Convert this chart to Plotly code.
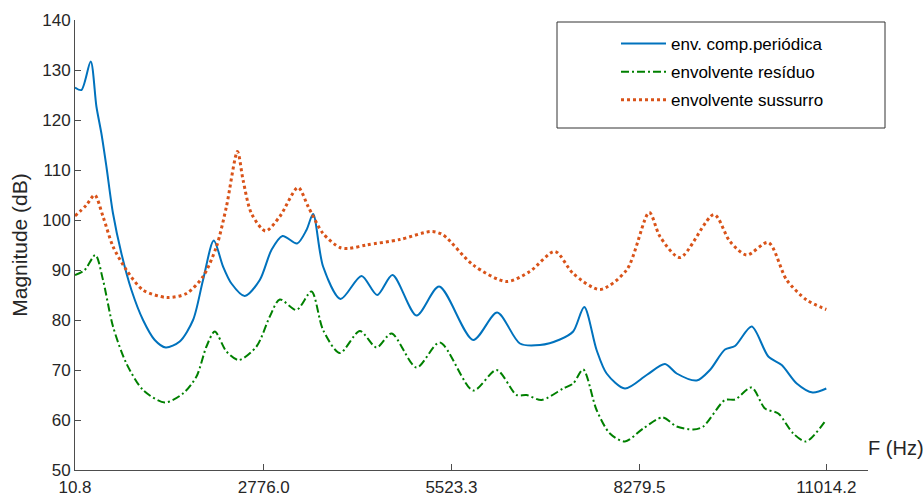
import plotly.graph_objects as go

# ---------------- data ----------------
freq_blue = [10.8, 104.6, 240.8, 324.4, 397.6, 470.9, 567.6, 690.7, 837.2, 1007, 1178.6,
             1339.7, 1545, 1740, 1886, 2043, 2179, 2302, 2497, 2717, 2888, 3050, 3263,
             3401, 3498, 3644, 3900, 4207, 4436, 4661, 5013, 5344, 5842, 6194, 6527,
             6820, 7113, 7307, 7469, 7650, 7797, 8065, 8383, 8651, 8823, 9116, 9310,
             9530, 9677, 9921, 10165, 10361, 10581, 10815, 11014.2]
mag_blue = [126.5, 126.0, 131.7, 122.7, 117.3, 110.7, 101.3, 93.3, 86.0, 80.0, 76.0,
            74.5, 75.7, 80.0, 88.0, 95.9, 90.7, 87.3, 84.8, 88.0, 94.0, 96.8, 95.3,
            98.0, 101.2, 90.7, 84.2, 88.8, 85.0, 89.0, 80.9, 86.7, 76.0, 81.5, 75.3,
            75.0, 76.1, 77.7, 82.6, 74.0, 69.3, 66.3, 69.0, 71.2, 69.3, 67.9, 70.0,
            74.1, 74.8, 78.7, 72.7, 71.0, 67.3, 65.5, 66.3]

freq_green = [10.8, 152.9, 309.7, 421, 567.6, 764, 1007, 1325, 1593, 1790, 1936, 2058,
              2229, 2409, 2669, 2864, 3010, 3255, 3474, 3644, 3889, 4182, 4427, 4647,
              5013, 5354, 5842, 6185, 6478, 6624, 6844, 7161, 7307, 7454, 7650, 7845,
              8065, 8333, 8617, 8823, 9066, 9212, 9530, 9677, 9921, 10116, 10311,
              10531, 10717, 11014.2]
mag_green = [89.0, 90.0, 93.0, 88.0, 78.7, 71.3, 66.0, 63.5, 65.3, 68.7, 74.7, 77.7,
             73.7, 72.0, 74.7, 80.7, 84.1, 82.0, 85.7, 78.0, 73.4, 77.8, 74.5, 77.3,
             70.5, 75.5, 65.9, 70.0, 65.0, 65.0, 64.0, 66.3, 67.3, 70.1, 62.0, 57.3,
             55.7, 58.3, 60.5, 58.7, 58.1, 58.7, 64.0, 64.1, 66.5, 62.3, 61.3,
             57.3, 55.7, 60.1]

freq_orange = [10.8, 177.8, 299.4, 421, 567.6, 764, 1007, 1359, 1643, 1886, 2083, 2229,
               2390, 2472, 2595, 2801, 3010, 3278, 3425, 3644, 3889, 4011, 4280, 4768,
               5233, 5403, 5842, 6332, 6673, 7039, 7307, 7699, 8090, 8421, 8578, 8871,
               9369, 9603, 9848, 10165, 10434, 10727, 11014.2]
mag_orange = [100.8, 103.0, 105.0, 100.7, 94.7, 90.0, 86.0, 84.5, 85.3, 88.7, 94.7, 102.7,
              113.7, 108.0, 101.3, 97.8, 100.7, 106.5, 102.7, 97.3, 94.5, 94.3, 95.0, 96.1,
              97.7, 97.0, 91.0, 87.7, 89.7, 93.7, 89.3, 86.1, 90.0, 101.5, 96.7, 92.5,
              101.1, 95.7, 93.0, 95.5, 88.0, 84.0, 82.1]

x_ticks = [10.8, 2776.0, 5523.3, 8279.5, 11014.2]
x_tick_text = ["10.8", "2776.0", "5523.3", "8279.5", "11014.2"]
y_ticks = [50, 60, 70, 80, 90, 100, 110, 120, 130, 140]

names = ["env. comp.periódica", "envolvente resíduo", "envolvente sussurro"]

# ---------------- figure ----------------
FONT = "Liberation Sans, Arial, Helvetica, sans-serif"
TXT = "#262626"
AX = "#4d4d4d"

fig = go.Figure()
fig.add_trace(go.Scatter(x=freq_blue, y=mag_blue, mode="lines", name=names[0],
                         legendgroup="a",
                         line=dict(color="#0072BD", width=2, shape="spline", smoothing=0.8)))
fig.add_trace(go.Scatter(x=freq_green, y=mag_green, mode="lines", name=names[1],
                         legendgroup="b",
                         line=dict(color="#008000", width=2, dash="8px,3px,2px,3px",
                                   shape="spline", smoothing=0.8)))
fig.add_trace(go.Scatter(x=freq_orange, y=mag_orange, mode="lines", name=names[2],
                         legendgroup="c",
                         line=dict(color="#D95319", width=3, dash="3px,3px",
                                   shape="spline", smoothing=0.8)))

L, R, T, B = 75, 55, 20, 28
W, H = 923, 498
pw = W - L - R
ph = H - T - B

def px_x(px):
    return (px - L) / pw

def px_y(py):
    return (H - B - py) / ph

fig.update_layout(
    width=W, height=H, autosize=False,
    margin=dict(l=L, r=R, t=T, b=B, pad=0),
    paper_bgcolor="white", plot_bgcolor="white",
    font=dict(family=FONT, size=17, color=TXT),
    showlegend=True,
    legend=dict(x=px_x(616), y=px_y(26), xanchor="left", yanchor="top",
                bgcolor="rgba(0,0,0,0)", borderwidth=0,
                font=dict(family=FONT, size=17, color="#000000"),
                traceorder="grouped", tracegroupgap=3, itemwidth=45),
    shapes=[dict(type="rect", xref="paper", yref="paper",
                 x0=px_x(557), x1=px_x(885), y0=px_y(128), y1=px_y(22),
                 line=dict(color="#333333", width=1), fillcolor="rgba(0,0,0,0)",
                 layer="below")],
    annotations=[dict(text="F (Hz)", xref="paper", yref="paper",
                      x=px_x(896), y=px_y(448), xanchor="center", yanchor="middle",
                      showarrow=False, font=dict(family=FONT, size=20, color=TXT))],
)

fig.update_xaxes(range=[10.8, 11625], tickvals=x_ticks, ticktext=x_tick_text,
                 automargin=False, ticklabelstandoff=2,
                 ticks="inside", ticklen=6, tickcolor=AX, tickwidth=1,
                 showline=True, linecolor=AX, linewidth=1, mirror=False,
                 showgrid=False, zeroline=False,
                 tickfont=dict(family=FONT, size=17, color=TXT))
fig.update_yaxes(range=[50, 140], tickvals=y_ticks, automargin=False,
                 ticks="inside", ticklen=6, tickcolor=AX, tickwidth=1,
                 showline=True, linecolor=AX, linewidth=1, mirror=False,
                 showgrid=False, zeroline=False,
                 title=dict(text="Magnitude (dB)", standoff=8,
                            font=dict(family=FONT, size=21, color=TXT)),
                 tickfont=dict(family=FONT, size=17, color=TXT))

fig.write_html("out.html")
